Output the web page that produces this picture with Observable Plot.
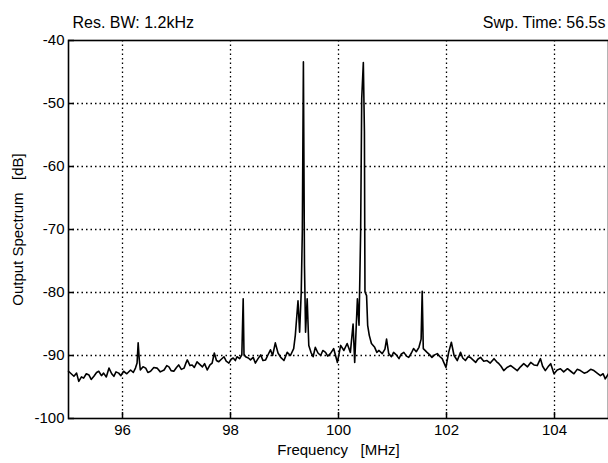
<!DOCTYPE html>
<html><head><meta charset="utf-8">
<script src="https://cdn.jsdelivr.net/npm/d3@7"></script>
<script src="https://cdn.jsdelivr.net/npm/@observablehq/plot@0.6"></script>
<style>body{margin:0;background:#fff;} svg{display:block}</style>
</head><body><div id="chart"></div>
<script>
const freq = [
95.00,95.05,95.10,95.15,95.19,95.24,95.28,95.33,95.38,95.42,95.47,95.52,95.56,95.61,95.65,95.70,95.75,95.80,95.84,95.88,
95.93,95.97,96.02,96.08,96.15,96.20,96.24,96.27,96.29,96.31,96.33,96.38,96.43,96.47,96.52,96.58,96.64,96.70,96.77,96.82,
96.86,96.90,96.95,97.00,97.04,97.09,97.14,97.17,97.20,97.25,97.29,97.33,97.38,97.43,97.48,97.52,97.57,97.62,97.66,97.70,
97.74,97.78,97.83,97.88,97.92,97.97,98.01,98.05,98.09,98.12,98.17,98.21,98.235,98.25,98.28,98.33,98.37,98.42,98.46,98.51,
98.56,98.60,98.65,98.70,98.74,98.78,98.83,98.88,98.93,98.99,99.05,99.11,99.17,99.20,99.25,99.28,99.31,99.33,99.35,99.37,
99.39,99.42,99.45,99.49,99.53,99.57,99.62,99.67,99.71,99.76,99.80,99.85,99.91,99.98,100.04,100.10,100.16,100.22,100.27,100.30,
100.35,100.38,100.41,100.43,100.46,100.48,100.49,100.52,100.54,100.57,100.61,100.67,100.71,100.75,100.81,100.86,100.89,100.93,100.98,101.02,
101.07,101.12,101.16,101.21,101.26,101.30,101.35,101.39,101.44,101.49,101.53,101.55,101.57,101.64,101.69,101.73,101.78,101.83,101.88,101.92,
101.99,102.04,102.09,102.14,102.20,102.26,102.30,102.35,102.40,102.44,102.49,102.54,102.58,102.63,102.69,102.75,102.81,102.88,102.93,102.97,
103.01,103.06,103.12,103.19,103.25,103.31,103.37,103.43,103.50,103.56,103.62,103.68,103.74,103.78,103.83,103.88,103.93,103.99,104.05,104.11,
104.17,104.24,104.30,104.36,104.42,104.48,104.55,104.61,104.67,104.73,104.79,104.85,104.90,104.94,105.00
];
const level = [
-92.5,-92.9,-93.3,-92.8,-94.1,-93.4,-93.6,-92.9,-93.1,-93.8,-93.3,-92.7,-92.5,-93.2,-92.8,-93.4,-92.0,-92.9,-93.3,-92.6,
-92.8,-93.2,-92.5,-92.9,-92.3,-92.7,-92.0,-91.2,-88.0,-90.6,-92.3,-91.8,-92.0,-92.7,-92.5,-91.9,-92.0,-92.6,-92.3,-91.6,
-91.8,-92.4,-92.5,-91.9,-91.5,-92.2,-92.0,-91.3,-90.7,-91.6,-91.5,-91.9,-91.0,-91.4,-91.8,-91.3,-92.3,-91.5,-91.2,-89.6,
-90.8,-91.0,-90.6,-90.2,-90.9,-91.2,-90.6,-90.4,-90.8,-90.2,-90.5,-89.9,-81.0,-89.8,-90.2,-90.4,-90.7,-90.3,-91.2,-90.5,
-89.9,-90.8,-90.7,-89.8,-89.1,-90.0,-88.0,-89.6,-90.3,-90.8,-89.5,-90.0,-88.9,-86.8,-81.3,-86.3,-79.9,-70.4,-43.4,-75.7,
-86.3,-81.0,-88.4,-89.5,-90.2,-88.7,-89.6,-90.0,-89.2,-89.5,-90.1,-89.7,-88.9,-91.1,-88.4,-89.2,-88.1,-89.5,-85.0,-91.1,
-81.0,-85.2,-70.4,-49.2,-43.5,-54.5,-79.9,-80.5,-85.2,-86.8,-88.1,-88.7,-89.5,-89.2,-89.7,-89.0,-87.4,-89.7,-90.2,-89.5,
-89.9,-90.5,-89.8,-89.5,-90.1,-90.3,-89.6,-88.9,-89.4,-88.7,-87.4,-79.8,-88.9,-89.5,-89.9,-90.3,-89.9,-89.7,-90.2,-90.5,
-91.9,-89.5,-87.9,-90.0,-90.8,-89.5,-90.4,-90.8,-90.2,-90.3,-90.7,-91.1,-90.6,-90.3,-90.9,-90.8,-91.2,-90.5,-91.0,-91.3,
-91.7,-92.4,-91.9,-91.6,-92.0,-92.4,-91.8,-91.3,-91.8,-91.1,-91.5,-91.6,-90.5,-91.7,-92.4,-91.8,-91.3,-92.9,-92.3,-92.1,
-92.6,-92.1,-92.5,-92.9,-92.2,-92.4,-92.8,-92.6,-92.2,-92.4,-92.8,-93.2,-92.9,-93.7,-92.9
];
const xTicks = [96, 98, 100, 102, 104];
const yTicks = [-100, -90, -80, -70, -60, -50, -40];
const xGrid = [96, 98, 100, 102, 104];
const yGrid = [-90, -80, -70, -60, -50];
const headerLeft = "Res. BW: 1.2kHz";
const headerRight = "Swp. Time: 56.5s";
const xLabel = "Frequency   [MHz]";
const yLabel = "Output Spectrum   [dB]";

const data = freq.map((f, i) => ({f, v: level[i]}));
const font = "'Liberation Sans', Arial, Helvetica, sans-serif";
const plot = Plot.plot({
  width: 608, height: 463,
  marginTop: 40, marginBottom: 45, marginLeft: 68, marginRight: 0,
  style: {fontFamily: font, fontSize: "15px", color: "#000", background: "#fff"},
  x: {domain: [95, 105]},
  y: {domain: [-100, -40]},
  marks: [
    Plot.ruleX(xGrid, {stroke: "#000", strokeWidth: 1.3, strokeDasharray: "1.5,3"}),
    Plot.ruleY(yGrid, {stroke: "#000", strokeWidth: 1.3, strokeDasharray: "1.5,3"}),
    Plot.ruleX(xTicks, {stroke: "#000", strokeWidth: 1.5, insetTop: 372}),
    Plot.ruleY(yTicks, {stroke: "#000", strokeWidth: 1.5, insetRight: 534}),
    Plot.line(data, {x: "f", y: "v", stroke: "#000", strokeWidth: 1.6, strokeLinejoin: "round"}),
    Plot.frame({stroke: "#000", strokeWidth: 1.6}),
    Plot.axisX(xTicks, {tickSize: 0, tickPadding: 6, fontSize: 15, tickFormat: d => String(d), label: xLabel, labelAnchor: "center", labelArrow: "none", labelOffset: 36}),
    Plot.axisY(yTicks, {tickSize: 0, tickPadding: 4, fontSize: 15, tickFormat: d => String(d), label: yLabel, labelAnchor: "center", labelArrow: "none", labelOffset: 56}),
    Plot.text([headerLeft], {text: d => d, frameAnchor: "top-left", dx: 4, dy: -24, textAnchor: "start", fontSize: 16}),
    Plot.text([headerRight], {text: d => d, frameAnchor: "top-right", dx: -3, dy: -24, textAnchor: "end", fontSize: 16})
  ]
});
document.getElementById("chart").append(plot);
</script>
</body></html>
